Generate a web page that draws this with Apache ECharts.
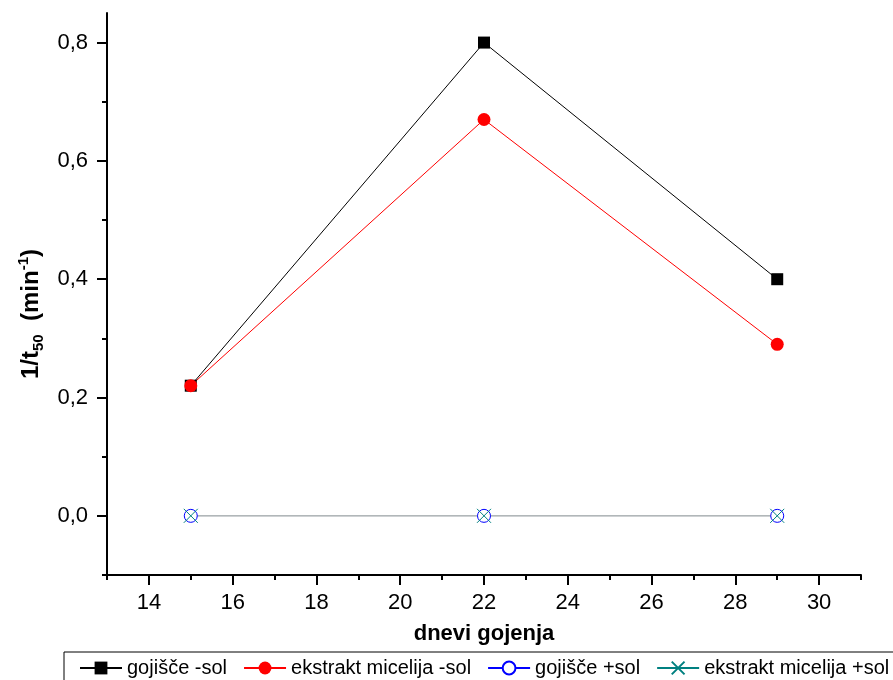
<!DOCTYPE html>
<html>
<head>
<meta charset="utf-8">
<script src="https://cdn.jsdelivr.net/npm/echarts@6/dist/echarts.min.js"></script>
<style>
  html, body { margin: 0; padding: 0; background: #fff; }
  #chart { width: 893px; height: 680px; }
</style>
</head>
<body>
<div id="chart"></div>
<script>
// Days of cultivation (x) and 1/t50 values per series
const days = [15, 22, 29];
const gojisceMinusSol = [0.22, 0.80, 0.40];
const ekstraktMinusSol = [0.22, 0.67, 0.29];
const gojiscePlusSol = [0, 0, 0];
const ekstraktPlusSol = [0, 0, 0];

const seriesNames = ['gojišče -sol', 'ekstrakt micelija -sol', 'gojišče +sol', 'ekstrakt micelija +sol'];

// Tick positions
const xMajorTicks = [14, 16, 18, 20, 22, 24, 26, 28, 30];
const xMinorTicks = [13, 15, 17, 19, 21, 23, 25, 27, 29, 31];
const yMajorTicks = [0, 0.2, 0.4, 0.6, 0.8];
const yMinorTicks = [-0.1, 0.1, 0.3, 0.5, 0.7];

const FONT = '"Liberation Sans", Arial, sans-serif';
const pairs = (xs, ys) => xs.map((x, i) => [x, ys[i]]);

const chart = echarts.init(document.getElementById('chart'), null, { renderer: 'canvas' });

const xBase = { type: 'value', gridIndex: 0, min: 13, max: 31, splitLine: { show: false } };
const yBase = { type: 'value', gridIndex: 0, min: -0.1, max: 0.85, splitLine: { show: false } };

chart.setOption({
  animation: false,
  backgroundColor: '#ffffff',
  grid: { left: 107, right: 32, top: 13, bottom: 105 },
  xAxis: [
    Object.assign({}, xBase, {
      position: 'bottom',
      name: 'dnevi gojenja',
      nameLocation: 'middle',
      nameGap: 48,
      nameTextStyle: { fontFamily: FONT, fontSize: 22, fontWeight: 'bold', color: '#000' },
      axisLine: { show: true, onZero: false, lineStyle: { color: '#000', width: 2 } },
      axisTick: { show: true, customValues: xMajorTicks, length: 10, lineStyle: { color: '#000', width: 2 } },
      axisLabel: { customValues: xMajorTicks, margin: 17, fontFamily: FONT, fontSize: 22, color: '#000' }
    }),
    Object.assign({}, xBase, {
      position: 'bottom',
      axisLine: { show: false, onZero: false },
      axisTick: { show: true, customValues: xMinorTicks, length: 5, lineStyle: { color: '#000', width: 2 } },
      axisLabel: { show: false }
    })
  ],
  yAxis: [
    Object.assign({}, yBase, {
      position: 'left',
      axisLine: { show: true, onZero: false, lineStyle: { color: '#000', width: 2 } },
      axisTick: { show: true, customValues: yMajorTicks, length: 10, lineStyle: { color: '#000', width: 2 } },
      axisLabel: {
        customValues: yMajorTicks, margin: 19, fontFamily: FONT, fontSize: 22, color: '#000',
        formatter: v => v.toFixed(1).replace('.', ',')
      }
    }),
    Object.assign({}, yBase, {
      position: 'left',
      axisLine: { show: false, onZero: false },
      axisTick: { show: true, customValues: yMinorTicks, length: 5, lineStyle: { color: '#000', width: 2 } },
      axisLabel: { show: false }
    })
  ],
  legend: {
    left: 79,
    top: 658,
    padding: 0,
    itemWidth: 42,
    itemHeight: 16,
    itemGap: 16,
    textStyle: { fontFamily: FONT, fontSize: 20, color: '#000' },
    data: [
      { name: seriesNames[0] },
      { name: seriesNames[1] },
      { name: seriesNames[2], lineStyle: { color: '#0000ff' } },
      { name: seriesNames[3], lineStyle: { color: '#008080' } }
    ]
  },
  graphic: [
    {
      type: 'rect',
      shape: { x: 64, y: 652, width: 900, height: 60 },
      style: { fill: 'none', stroke: '#000', lineWidth: 1 },
      silent: true
    },
    {
      type: 'text',
      x: 31,
      y: 314,
      rotation: Math.PI / 2,
      style: {
        text: '{m|1/t}{sub|50}{m|  (min}{sup|-1}{m|)}',
        align: 'center',
        verticalAlign: 'middle',
        fill: '#000',
        rich: {
          m: { fontFamily: FONT, fontSize: 24, fontWeight: 'bold', lineHeight: 34, verticalAlign: 'middle' },
          sub: { fontFamily: FONT, fontSize: 15, fontWeight: 'bold', lineHeight: 34, verticalAlign: 'bottom', padding: [0, 0, 2, 0] },
          sup: { fontFamily: FONT, fontSize: 15, fontWeight: 'bold', lineHeight: 34, verticalAlign: 'top', padding: [2, 0, 0, 0] }
        }
      }
    }
  ],
  series: [
    {
      name: seriesNames[0], type: 'line', xAxisIndex: 0, yAxisIndex: 0,
      data: pairs(days, gojisceMinusSol),
      symbol: 'rect', symbolSize: 12,
      itemStyle: { color: '#000' },
      lineStyle: { color: '#000', width: 1 }
    },
    {
      name: seriesNames[1], type: 'line', xAxisIndex: 0, yAxisIndex: 0,
      data: pairs(days, ekstraktMinusSol),
      symbol: 'circle', symbolSize: 13,
      itemStyle: { color: '#ff0000' },
      lineStyle: { color: '#ff0000', width: 1 }
    },
    {
      name: seriesNames[2], type: 'line', xAxisIndex: 0, yAxisIndex: 0,
      data: pairs(days, gojiscePlusSol),
      symbol: 'circle', symbolSize: 13,
      itemStyle: { color: '#ffffff', borderColor: '#0000ff', borderWidth: 1 },
      lineStyle: { color: '#a8a8b0', width: 1 }
    },
    {
      name: seriesNames[3], type: 'line', xAxisIndex: 0, yAxisIndex: 0,
      data: pairs(days, ekstraktPlusSol),
      symbol: 'path://M0,0L10,10M10,0L0,10', symbolSize: 14,
      itemStyle: { color: 'none', borderColor: '#008080', borderWidth: 1 },
      lineStyle: { color: '#a8b0b0', width: 1 }
    }
  ]
});
</script>
</body>
</html>
